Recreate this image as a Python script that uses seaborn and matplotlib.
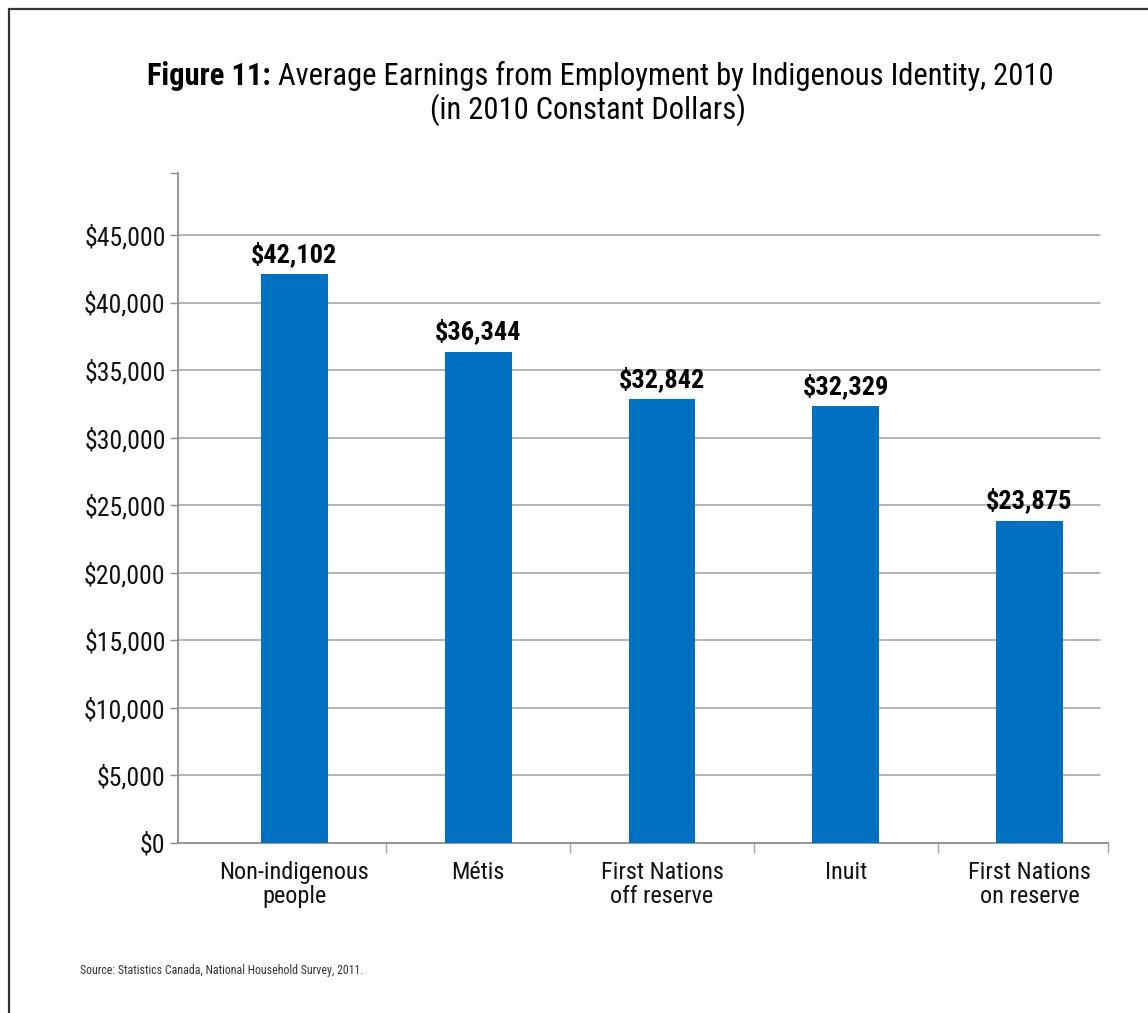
import matplotlib
matplotlib.use("Agg")
import matplotlib.pyplot as plt
from matplotlib.lines import Line2D
import seaborn as sns
import pandas as pd

categories = ["Non-indigenous\npeople", "Métis", "First Nations\noff reserve",
              "Inuit", "First Nations\non reserve"]
earnings = [42102, 36344, 32842, 32329, 23875]
y_ticks = [0, 5000, 10000, 15000, 20000, 25000, 30000, 35000, 40000, 45000]
y_tick_labels = ["$0", "$5,000", "$10,000", "$15,000", "$20,000", "$25,000",
                 "$30,000", "$35,000", "$40,000", "$45,000"]
bar_labels = ["$42,102", "$36,344", "$32,842", "$32,329", "$23,875"]

sns.set_theme(style="white")
plt.rcParams["font.family"] = ["Roboto Condensed", "Liberation Sans", "DejaVu Sans"]

df = pd.DataFrame({"group": categories, "earnings": earnings})

fig = plt.figure(figsize=(11.48, 10.13), dpi=100)
ax = fig.add_axes([0.1551, 0.1678, 0.9652 - 0.1551, 0.8292 - 0.1678])

sns.barplot(data=df, x="group", y="earnings", color="#0070C0", saturation=1,
            width=0.364, linewidth=0, ax=ax, zorder=3)

ymax = 49600
ax.set_ylim(0, ymax)
ax.set_xlim(-0.633, 4.427)

# horizontal gridlines (no line at the top of the axis)
for v in y_ticks[1:]:
    ax.axhline(v, color="#a0a0a0", lw=1.1, zorder=1,
               xmax=(4.385 + 0.633) / (4.427 + 0.633))

ax.set_yticks(y_ticks + [ymax])
ax.set_yticklabels(y_tick_labels + [""], fontsize=18.5, color="#111111")
ax.set_xticks(range(len(categories)))
ax.set_xticklabels(categories, fontsize=17.5, color="#111111", linespacing=1.05)
ax.tick_params(axis="x", length=0, pad=13)
ax.tick_params(axis="y", length=6, width=1, color="#8c8c8c", pad=3, left=True)
ax.set_xticks([0.5, 1.5, 2.5, 3.5, 4.427], minor=True)
ax.tick_params(axis="x", which="minor", length=7, width=1, color="#a6a6a6",
               direction="out", bottom=True)
ax.set_xlabel("")
ax.set_ylabel("")

for s in ["top", "right"]:
    ax.spines[s].set_visible(False)
for s in ["left", "bottom"]:
    ax.spines[s].set_color("#8c8c8c")
    ax.spines[s].set_linewidth(1.3)

for i, (v, lab) in enumerate(zip(earnings, bar_labels)):
    ax.text(i, v + 550, lab, ha="center", va="bottom", fontsize=19,
            fontweight="bold", color="#000000", zorder=4)

# title: heavy lead-in followed by regular text on the first line
renderer = fig.canvas.get_renderer()
t_bold = fig.text(0, 0.925, "Figure 11:", fontsize=22, fontweight="bold",
                  ha="left", va="center", color="#000000")
t_reg = fig.text(0, 0.925, " Average Earnings from Employment by Indigenous Identity, 2010",
                 fontsize=22, ha="left", va="center", color="#000000")
w_bold = t_bold.get_window_extent(renderer).width / fig.bbox.width
w_reg = t_reg.get_window_extent(renderer).width / fig.bbox.width
x0 = 0.523 - (w_bold + w_reg) / 2
t_bold.set_x(x0)
t_reg.set_x(x0 + w_bold)
fig.text(0.512, 0.8915, "(in 2010 Constant Dollars)", fontsize=22,
         ha="center", va="center", color="#000000")

fig.text(0.0697, 0.042, "Source: Statistics Canada, National Household Survey, 2011.",
         fontsize=8.6, color="#333333", ha="left", va="center")

# page frame along the left and top edges
fig.add_artist(Line2D([0.0078, 0.0078], [0, 0.9915], transform=fig.transFigure,
                      color="#333333", lw=1.6))
fig.add_artist(Line2D([0.0078, 1.0], [0.9915, 0.9915], transform=fig.transFigure,
                      color="#333333", lw=1.6))

fig.savefig("out.png", dpi=100)
